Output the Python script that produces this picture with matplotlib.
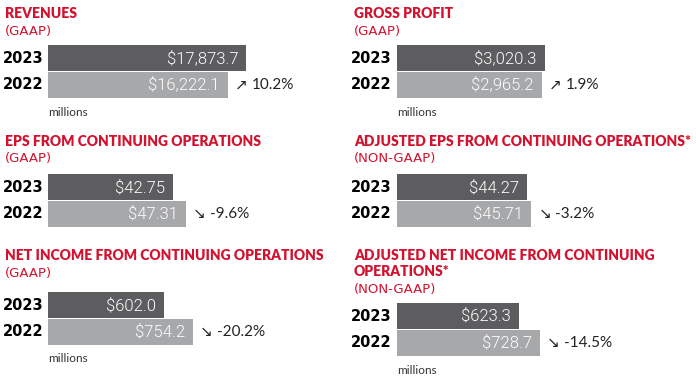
import matplotlib
matplotlib.use("Agg")
import matplotlib.pyplot as plt

# ---------------- data ----------------
titles = ["REVENUES", "GROSS PROFIT", "EPS FROM CONTINUING OPERATIONS",
          "ADJUSTED EPS FROM CONTINUING OPERATIONS*", "NET INCOME FROM CONTINUING OPERATIONS",
          "ADJUSTED NET INCOME FROM CONTINUING\nOPERATIONS*"]
subtitles = ["(GAAP)", "(GAAP)", "(GAAP)", "(NON-GAAP)", "(GAAP)", "(NON-GAAP)"]
years = ["2023", "2022"]
values_2023 = [17873.7, 3020.3, 42.75, 44.27, 602.0, 623.3]
values_2022 = [16222.1, 2965.2, 47.31, 45.71, 754.2, 728.7]
decimals = [1, 1, 2, 2, 1, 1]
changes = [10.2, 1.9, -9.6, -3.2, -20.2, -14.5]
units = ["millions", "millions", "", "", "millions", "millions"]

# ---------------- layout (pixels) ----------------
W, H = 696, 381
panel_x = [48, 397, 48, 397, 48, 397]
title_x = [5, 354, 5, 354, 5, 354]
title_y = [13, 13, 141, 141, 255, 263.5]
sub_y = [32, 32, 158, 158, 273, 290]
bar_top = [45, 45, 174, 174, 292, 303]
px_per_unit = [0.01109, 0.0489, 2.92, 2.94, 0.1925, 0.196]
bar_h = 53
axes_w = 300

RED = "#d2122e"
DARK = "#5d5d5f"
LIGHT = "#a7a8aa"
TXT = "#222222"

fig = plt.figure(figsize=(W / 100, H / 100), dpi=100)
fig.patch.set_facecolor("white")

def fy(y):
    return 1 - y / H

for i in range(6):
    x0 = panel_x[i]
    ax = fig.add_axes([x0 / W, 1 - (bar_top[i] + bar_h) / H, axes_w / W, bar_h / H])
    ax.set_xlim(0, axes_w / px_per_unit[i])
    ax.set_ylim(1.5, -0.5)
    ax.axis("off")
    vals = [values_2023[i], values_2022[i]]
    ax.barh([0, 1], vals, height=0.97, color=[DARK, LIGHT], left=0)
    fmt = "${:,.%df}" % decimals[i]
    for j, v in enumerate(vals):
        ax.annotate(fmt.format(v), (v, j), xytext=(-8, 0), textcoords="offset pixels",
                    ha="right", va="center", color="white", fontsize=12,
                    family="Roboto", fontweight=300, clip_on=False)
        ax.annotate(years[j], (0, j), xytext=(-5, 0), textcoords="offset pixels",
                    ha="right", va="center", color="black", fontsize=10.5,
                    family="DejaVu Sans", fontweight="bold", annotation_clip=False)
    arrow = "\u2197" if changes[i] > 0 else "\u2198"
    ax.annotate(arrow, (values_2022[i], 1), xytext=(7, 0), textcoords="offset pixels",
                ha="left", va="center", color=TXT, fontsize=11, family="DejaVu Sans",
                annotation_clip=False)
    ax.annotate("%.1f%%" % changes[i], (values_2022[i], 1), xytext=(24, 0),
                textcoords="offset pixels", ha="left", va="center", color=TXT,
                fontsize=11, family="Lato", annotation_clip=False)
    if units[i]:
        fig.text(x0 / W, fy(bar_top[i] + bar_h + 14), units[i], ha="left", va="center",
                 color="#333333", fontsize=8.5, family="Lato")
    fig.text(title_x[i] / W, fy(title_y[i]), titles[i], ha="left", va="center",
             color=RED, fontsize=10, family="Lato", fontweight="heavy", linespacing=1.25)
    fig.text(title_x[i] / W, fy(sub_y[i]), subtitles[i], ha="left", va="center",
             color=RED, fontsize=9.5, family="DejaVu Sans")

fig.savefig("out.png", dpi=100, facecolor="white")
